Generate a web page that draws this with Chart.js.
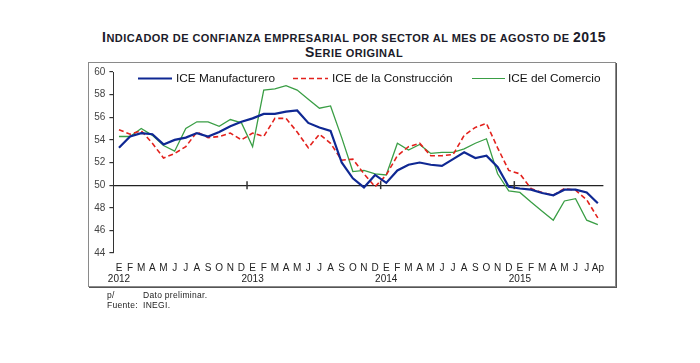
<!DOCTYPE html>
<html>
<head>
<meta charset="utf-8">
<script src="https://cdn.jsdelivr.net/npm/chart.js@4.4.1/dist/chart.umd.min.js"></script>
<style>
  html, body { margin:0; padding:0; background:#fff; }
  body { width:700px; height:363px; position:relative; overflow:hidden; font-family:"Liberation Sans", Arial, sans-serif; }
  #frame { position:absolute; left:88px; top:62px; width:526px; height:223px; border:1px solid #8a8a8a; box-shadow:1px 1px 0 #555; }
  .title { position:absolute; left:0; width:708px; text-align:center; font-weight:bold; color:#1c1c2a; white-space:nowrap; letter-spacing:0.45px; line-height:16px; }
  .title .c { font-size:14px; }
  .title .s { font-size:11px; }
  #chartCanvas { position:absolute; left:0; top:0; }
  .leg { position:absolute; font-size:11.8px; color:#111; white-space:nowrap; line-height:13px; }
  .legline { position:absolute; }
  .note { position:absolute; font-size:8.5px; letter-spacing:0.3px; color:#222; line-height:10px; }
</style>
</head>
<body>
<div id="frame"></div>
<div class="title" style="top:29px;"><span class="c">I</span><span class="s">NDICADOR DE CONFIANZA EMPRESARIAL POR SECTOR AL MES DE AGOSTO DE </span><span class="c">2015</span></div>
<div class="title" style="top:44px;"><span class="c">S</span><span class="s">ERIE ORIGINAL</span></div>
<canvas id="chartCanvas" width="700" height="363"></canvas>

<svg class="legline" style="left:0;top:0;" width="700" height="363">
  <line x1="138" y1="78.5" x2="172" y2="78.5" stroke="#0f2893" stroke-width="2"/>
  <line x1="293" y1="78.5" x2="328" y2="78.5" stroke="#e3211c" stroke-width="1.6" stroke-dasharray="5,3"/>
  <line x1="472" y1="78.5" x2="505" y2="78.5" stroke="#3a9e45" stroke-width="1.2"/>
</svg>
<div class="leg" style="left:176px;top:72px;">ICE Manufacturero</div>
<div class="leg" style="left:332px;top:72px;">ICE de la Construcción</div>
<div class="leg" style="left:508px;top:72px;">ICE del Comercio</div>

<div class="note" style="left:107px;top:290px;">p/</div>
<div class="note" style="left:143px;top:290px;">Dato preliminar.</div>
<div class="note" style="left:107px;top:300px;">Fuente:</div>
<div class="note" style="left:143px;top:300px;">INEGI.</div>

<script>
// ---- data ----
const months = ['E','F','M','A','M','J','J','A','S','O','N','D',
                'E','F','M','A','M','J','J','A','S','O','N','D',
                'E','F','M','A','M','J','J','A','S','O','N','D',
                'E','F','M','A','M','J','J','Ap'];
const years = ['2012','2013','2014','2015'];
const yTicks = [44,46,48,50,52,54,56,58,60];

const manufacturero = [53.3,54.3,54.6,54.5,53.6,54.0,54.2,54.6,54.3,54.7,55.2,55.6,
                       55.9,56.3,56.3,56.5,56.6,55.5,55.1,54.8,52.0,50.6,49.8,50.9,
                       50.2,51.3,51.8,52.0,51.8,51.7,52.3,52.9,52.4,52.6,51.6,49.85,
                       49.7,49.6,49.3,49.1,49.6,49.6,49.35,48.4];
const construccion  = [54.9,54.5,54.8,53.7,52.4,52.8,53.4,54.7,54.2,54.3,54.6,54.0,
                       54.6,54.3,55.9,55.9,54.7,53.3,54.5,53.7,52.2,52.3,51.0,49.85,
                       50.9,52.6,53.4,53.7,52.6,52.6,52.7,54.4,55.1,55.45,53.3,51.3,
                       51.0,49.7,49.35,49.1,49.7,49.55,48.7,47.1];
const comercio      = [54.3,54.3,55.0,54.4,53.5,53.0,55.0,55.6,55.6,55.2,55.8,55.5,
                       53.4,58.4,58.5,58.8,58.4,57.6,56.8,57.0,54.2,51.2,51.3,51.0,
                       50.9,53.7,53.1,53.6,52.8,52.9,52.9,53.2,53.7,54.1,51.0,49.5,
                       49.35,48.5,47.7,46.9,48.6,48.8,46.9,46.5];

// category labels: month letter, with the year under each January
let yi = 0;
const labels = months.map((m, i) => (i % 12 === 0) ? [m, years[yi++]] : [m, '']);

const yearTickPlugin = {
  id: 'yearTicks',
  afterDatasetsDraw(chart) {
    const x = chart.scales.x, y = chart.scales.y, ctx = chart.ctx;
    const y50 = y.getPixelForValue(50);
    ctx.save();
    ctx.strokeStyle = '#333';
    ctx.lineWidth = 1.5;
    for (let i = 12; i < months.length; i += 12) {
      const xp = (x.getPixelForValue(i - 1) + x.getPixelForValue(i)) / 2;
      ctx.beginPath();
      ctx.moveTo(xp, y50 - 4);
      ctx.lineTo(xp, y50 + 4);
      ctx.stroke();
    }
    ctx.restore();
  }
};

new Chart(document.getElementById('chartCanvas'), {
  type: 'line',
  data: {
    labels: labels,
    datasets: [
      { label: 'ICE Manufacturero', data: manufacturero, borderColor: '#0f2893', borderWidth: 2.2, order: 1 },
      { label: 'ICE de la Construcción', data: construccion, borderColor: '#e3211c', borderWidth: 1.6, borderDash: [5,3], order: 2 },
      { label: 'ICE del Comercio', data: comercio, borderColor: '#3a9e45', borderWidth: 1.3, order: 3 }
    ]
  },
  options: {
    responsive: false,
    devicePixelRatio: 1,
    animation: false,
    layout: { padding: { left: 83.4, right: 96.6, top: 72, bottom: 70 } },
    elements: { point: { radius: 0 }, line: { tension: 0, fill: false } },
    plugins: { legend: { display: false }, tooltip: { enabled: false } },
    scales: {
      x: {
        type: 'category',
        offset: true,
        grid: { display: false },
        border: { display: false },
        ticks: {
          autoSkip: false, maxRotation: 0, minRotation: 0,
          color: '#222',
          padding: 2,
          font: { family: 'Liberation Sans', size: 10, lineHeight: 1.1 }
        },
        afterFit(s) { s.height = 40; }
      },
      y: {
        min: 44, max: 60,
        afterBuildTicks(s) { s.ticks = yTicks.map(v => ({ value: v })); },
        ticks: { color: '#444', padding: 4, font: { family: 'Liberation Sans', size: 10 } },
        grid: {
          drawOnChartArea: true,
          color: c => (c.tick && c.tick.value === 50) ? '#222' : 'rgba(0,0,0,0)',
          tickColor: '#333',
          tickLength: 4,
          lineWidth: 1.2
        },
        border: { display: true, color: '#333', width: 1 },
        afterFit(s) { s.width = 30; }
      }
    }
  },
  plugins: [yearTickPlugin]
});
</script>
</body>
</html>
